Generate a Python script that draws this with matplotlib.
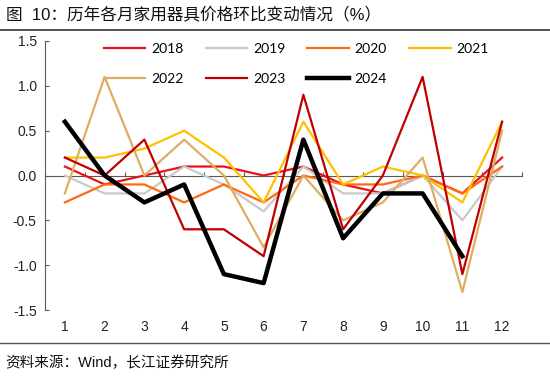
import matplotlib
matplotlib.use("Agg")
import matplotlib.pyplot as plt

plt.rcParams['font.family'] = ['Liberation Sans', 'Noto Sans CJK SC']

months = list(range(1, 13))
years = ['2018', '2019', '2020', '2021', '2022', '2023', '2024']

v2018 = [0.1, -0.1, 0.0, 0.1, 0.1, 0.0, 0.1, -0.1, -0.2, 0.0, -0.2, 0.2]
v2019 = [0.0, -0.2, -0.2, 0.1, -0.1, -0.4, 0.1, -0.2, -0.2, 0.0, -0.5, 0.1]
v2020 = [-0.3, -0.1, -0.1, -0.3, -0.1, -0.3, 0.0, -0.1, -0.1, 0.0, -0.2, 0.1]
v2021 = [0.2, 0.2, 0.3, 0.5, 0.2, -0.3, 0.6, -0.1, 0.1, 0.0, -0.3, 0.6]
v2022 = [-0.2, 1.1, 0.0, 0.4, 0.0, -0.8, 0.0, -0.5, -0.3, 0.2, -1.3, 0.5]
v2023 = [0.2, 0.0, 0.4, -0.6, -0.6, -0.9, 0.9, -0.6, 0.0, 1.1, -1.1, 0.6]
v2024 = [0.6, 0.0, -0.3, -0.1, -1.1, -1.2, 0.4, -0.7, -0.2, -0.2, -0.9]

series = [v2018, v2019, v2020, v2021, v2022, v2023, v2024]
colors = ['#E8141B', '#C9C9C9', '#FF6A10', '#FFC000', '#DDAE62', '#C00000', '#000000']
widths = [1.6, 1.6, 1.6, 1.6, 1.6, 1.6, 3.2]

fig = plt.figure(figsize=(5.5, 3.79), dpi=100)
ax = fig.add_axes([45 / 550, 1 - 310 / 379, 477 / 550, 269 / 379])

lines = {}
for yr, vals, c, lw in zip(years, series, colors, widths):
    lines[yr], = ax.plot(months[:len(vals)], vals, color=c, lw=lw, label=yr, zorder=3)

ax.set_xlim(0.5, 12.5)
ax.set_ylim(-1.5, 1.5)
ax.set_yticks([-1.5, -1.0, -0.5, 0.0, 0.5, 1.0, 1.5])
ax.set_yticklabels(['%.1f' % t for t in ax.get_yticks()])
ax.tick_params(axis='y', direction='in', length=3, color='#595959',
               labelsize=10, labelcolor='#222222', pad=6)

# x axis sits on the zero line, ticks between categories
for s in ['top', 'right']:
    ax.spines[s].set_visible(False)
ax.spines['left'].set_color('#595959')
ax.spines['bottom'].set_position(('data', 0))
ax.spines['bottom'].set_color('#595959')
ax.spines['bottom'].set_zorder(2)
ax.set_xticks([m + 0.5 for m in months])
ax.tick_params(axis='x', direction='in', length=3, color='#595959', labelbottom=False)
for m in months:
    ax.text(m, -0.065, str(m), transform=ax.get_xaxis_transform(),
            ha='center', va='center', fontsize=10, color='#222222')

# legend fills by column, so order it to read row by row
order = ['2018', '2022', '2019', '2023', '2020', '2024', '2021']
leg = ax.legend([lines[k] for k in order], order, ncol=4, loc='upper left',
                bbox_to_anchor=(0.097, 1.04), frameon=False,
                prop={'family': 'Lato', 'size': 10}, handlelength=3.0, handletextpad=0.4,
                columnspacing=1.6, labelspacing=1.3)

fig.text(0.01, 1 - 15 / 379, '图  10：历年各月家用器具价格环比变动情况（%）',
         fontsize=12, va='center', ha='left', color='#111111')
fig.add_artist(plt.Line2D([0, 1], [1 - 29.5 / 379, 1 - 29.5 / 379], color='#333333', lw=1.2))
fig.add_artist(plt.Line2D([0, 1], [1 - 343 / 379, 1 - 343 / 379], color='#555555', lw=1.0))
fig.text(0.01, 1 - 363 / 379, '资料来源：Wind，长江证券研究所',
         fontsize=10.5, va='center', ha='left', color='#111111')

fig.savefig('out.png', dpi=100)
